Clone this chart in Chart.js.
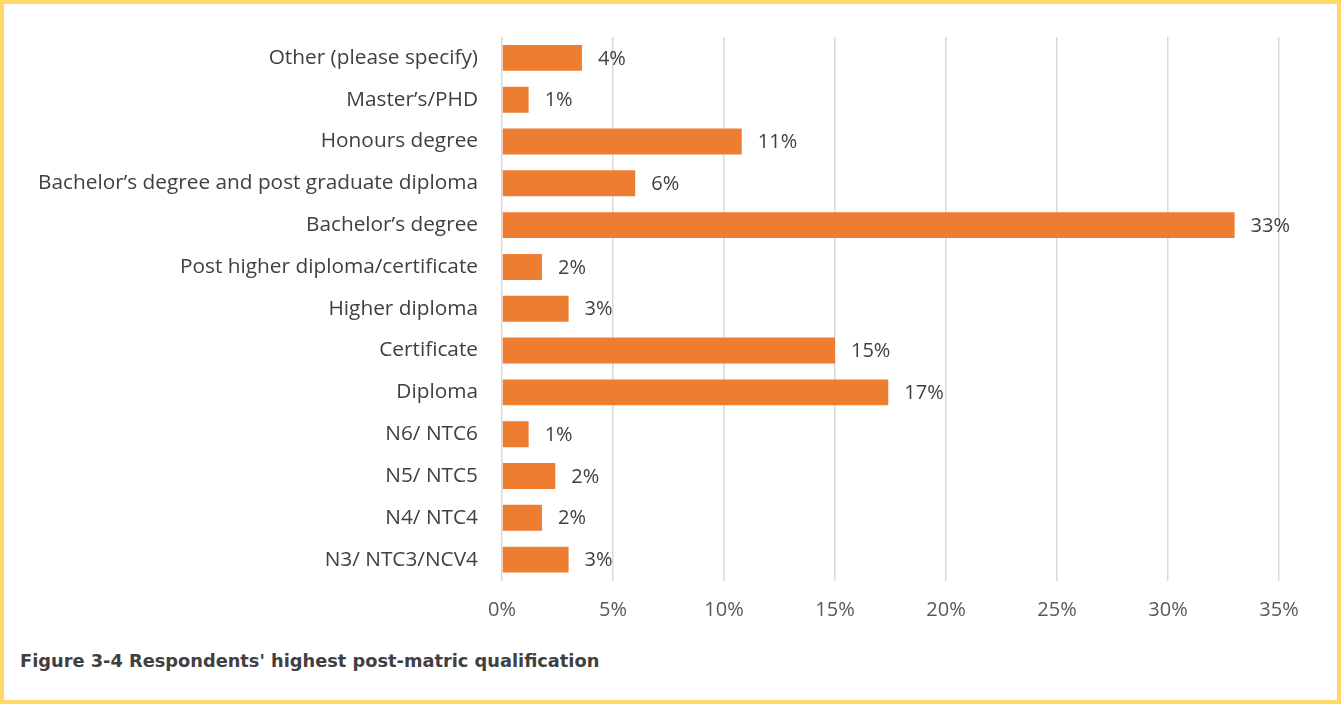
<!DOCTYPE html>
<html>
<head>
<meta charset="utf-8">
<script src="https://cdn.jsdelivr.net/npm/chart.js@4"></script>
<style>
  html, body { margin: 0; padding: 0; background: #fff; }
  #frame {
    position: relative;
    width: 1341px; height: 704px;
    box-sizing: border-box;
    border: 4px solid #FFD966;
  }
  #wrap { position: absolute; left: -4px; top: -4px; width: 1341px; height: 640px; }
  #caption {
    position: absolute; left: 16px; top: 646px;
    font-family: "DejaVu Sans", sans-serif; font-weight: bold; font-size: 17.8px;
    color: #404040;
  }
</style>
</head>
<body>
<div id="frame">
  <div id="wrap"><canvas id="myChart"></canvas></div>
  <div id="caption">Figure 3-4 Respondents' highest post-matric qualification</div>
</div>
<script>
const categories = [
  'Other (please specify)',
  'Master\u2019s/PHD',
  'Honours degree',
  'Bachelor\u2019s degree and post graduate diploma',
  'Bachelor\u2019s degree',
  'Post higher diploma/certificate',
  'Higher diploma',
  'Certificate',
  'Diploma',
  'N6/ NTC6',
  'N5/ NTC5',
  'N4/ NTC4',
  'N3/ NTC3/NCV4'
];

const shares = [3.6, 1.2, 10.8, 6.0, 33.0, 1.8, 3.0, 15.0, 17.4, 1.2, 2.4, 1.8, 3.0];

const xTicks = [0, 5, 10, 15, 20, 25, 30, 35];

const ctx = document.getElementById('myChart');

// draws the "n%" text just past the end of each bar
const barLabels = {
  id: 'barLabels',
  afterDatasetsDraw(chart) {
    const c = chart.ctx;
    const meta = chart.getDatasetMeta(0);
    c.save();
    c.font = '20px "Open Sans"';
    c.fillStyle = '#404040';
    c.textAlign = 'left';
    c.textBaseline = 'middle';
    meta.data.forEach(function(bar, i) {
      c.fillText(Math.round(shares[i]) + '%', bar.x + 16, bar.y + 1);
    });
    c.restore();
  }
};

new Chart(ctx, {
  type: 'bar',
  data: {
    labels: categories,
    datasets: [{
      data: shares,
      backgroundColor: '#ED7D31',
      borderWidth: 0,
      categoryPercentage: 1,
      barPercentage: 0.62
    }]
  },
  options: {
    indexAxis: 'y',
    responsive: true,
    maintainAspectRatio: false,
    animation: false,
    layout: { padding: { left: 0, right: 62, top: 37, bottom: 0 } },
    plugins: { legend: { display: false }, tooltip: { enabled: false } },
    scales: {
      x: {
        min: 0,
        max: 35,
        afterBuildTicks: function(scale) {
          scale.ticks = xTicks.map(v => ({ value: v }));
        },
        afterFit: function(scale) { scale.height = 59.5; },
        grid: { color: '#D9D9D9', lineWidth: 1.5, drawTicks: false },
        border: { display: false },
        ticks: {
          padding: 18,
          color: '#595959',
          font: { family: 'Open Sans', size: 20 },
          callback: v => v + '%'
        }
      },
      y: {
        afterFit: function(scale) { scale.width = 502; },
        grid: { display: false, drawTicks: false },
        border: { display: false },
        ticks: {
          padding: 24,
          color: '#404040',
          font: { family: 'Open Sans', size: 20.8 }
        }
      }
    }
  },
  plugins: [barLabels]
});
</script>
</body>
</html>
